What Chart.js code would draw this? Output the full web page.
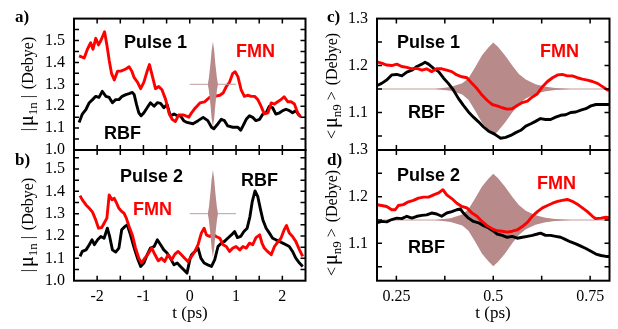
<!DOCTYPE html>
<html>
<head>
<meta charset="utf-8">
<script src="https://cdn.jsdelivr.net/npm/chart.js@4.4.1/dist/chart.umd.min.js"></script>
<style>
  html, body { margin: 0; padding: 0; background: #fff; }
  #fig { position: relative; width: 618px; height: 329px; overflow: hidden; background: #fff; }
  #fig canvas { position: absolute; left: 0; top: 0; }
  .t { position: absolute; white-space: nowrap; line-height: 1; }
  .ann { font: bold 18px "Liberation Sans", Arial, sans-serif; color: #000; }
  .red { color: #f00; }
  .pl { font: bold 17px "Liberation Serif", serif; }
  .ser { font: 17px "Liberation Serif", serif; }
  .ytl { font: 16px "Liberation Serif", serif; }
  .ytl .mu { font-size: 20px; }
  .ytl .bar { margin: 0 2px; }
  .ytl sub { font-size: 13px; vertical-align: -0.3em; line-height: 0; margin-right: 2px; }
  .rot { transform: translate(-50%, -50%) rotate(-90deg); }
  .ctr { transform: translate(-50%, -50%); }
</style>
</head>
<body>
<div id="fig">
  <canvas id="pa" width="618" height="329"></canvas>
  <canvas id="pb" width="618" height="329"></canvas>
  <canvas id="pc" width="618" height="329"></canvas>
  <canvas id="pd" width="618" height="329"></canvas>
</div>
<script>
/* ---------- data: [t (ps), value (Debye)] ---------- */
var aFmn = [[-2.39,1.43],[-2.28,1.42],[-2.21,1.46],[-2.14,1.49],[-2.09,1.46],[-2.03,1.51],[-1.97,1.48],[-1.92,1.50],[-1.84,1.54],[-1.79,1.48],[-1.74,1.41],[-1.69,1.35],[-1.63,1.32],[-1.56,1.36],[-1.49,1.36],[-1.38,1.37],[-1.31,1.38],[-1.25,1.36],[-1.20,1.33],[-1.13,1.31],[-1.06,1.28],[-0.99,1.31],[-0.92,1.36],[-0.87,1.39],[-0.81,1.34],[-0.74,1.28],[-0.67,1.29],[-0.60,1.275],[-0.52,1.23],[-0.45,1.17],[-0.38,1.14],[-0.31,1.13],[-0.24,1.16],[-0.13,1.16],[-0.02,1.15],
  [0.04,1.17],[0.11,1.19],[0.22,1.215],[0.32,1.22],[0.43,1.24],[0.54,1.245],[0.65,1.25],[0.72,1.26],[0.79,1.29],[0.86,1.31],[0.93,1.35],[0.98,1.357],[1.04,1.335],[1.11,1.275],[1.18,1.245],[1.25,1.25],[1.33,1.245],[1.40,1.245],[1.47,1.23],[1.54,1.20],[1.61,1.165],[1.69,1.17],[1.76,1.215],[1.83,1.21],[1.90,1.22],[1.97,1.23],[2.04,1.243],[2.12,1.22],[2.19,1.22],[2.26,1.21],[2.33,1.17],[2.40,1.15]];
var aRbf = [[-2.39,1.126],[-2.32,1.164],[-2.24,1.186],[-2.17,1.216],[-2.10,1.23],[-2.03,1.245],[-1.96,1.24],[-1.89,1.268],[-1.81,1.245],[-1.74,1.24],[-1.67,1.216],[-1.60,1.23],[-1.53,1.23],[-1.46,1.245],[-1.38,1.253],[-1.31,1.257],[-1.24,1.263],[-1.20,1.253],[-1.15,1.208],[-1.10,1.17],[-1.05,1.156],[-0.99,1.17],[-0.92,1.193],[-0.85,1.216],[-0.77,1.20],[-0.70,1.216],[-0.63,1.213],[-0.56,1.193],[-0.49,1.208],[-0.42,1.156],[-0.34,1.164],[-0.27,1.156],[-0.20,1.156],[-0.13,1.134],[-0.06,1.126],
  [0.07,1.12],[0.18,1.134],[0.29,1.149],[0.39,1.134],[0.47,1.104],[0.52,1.097],[0.61,1.12],[0.68,1.14],[0.75,1.134],[0.82,1.11],[0.93,1.104],[1.04,1.104],[1.10,1.09],[1.15,1.11],[1.22,1.14],[1.29,1.156],[1.36,1.149],[1.43,1.134],[1.51,1.14],[1.58,1.164],[1.65,1.17],[1.72,1.20],[1.79,1.193],[1.86,1.164],[1.94,1.17],[2.01,1.18],[2.08,1.186],[2.15,1.18],[2.22,1.17],[2.29,1.18],[2.37,1.156]];
var bFmn = [[-2.37,1.381],[-2.32,1.362],[-2.24,1.339],[-2.17,1.324],[-2.10,1.307],[-2.03,1.272],[-1.97,1.235],[-1.90,1.238],[-1.85,1.257],[-1.79,1.28],[-1.74,1.384],[-1.68,1.362],[-1.63,1.369],[-1.58,1.347],[-1.53,1.324],[-1.47,1.31],[-1.42,1.302],[-1.37,1.28],[-1.31,1.243],[-1.24,1.205],[-1.17,1.146],[-1.10,1.101],[-1.04,1.079],[-0.97,1.101],[-0.90,1.119],[-0.82,1.146],[-0.75,1.116],[-0.68,1.089],[-0.61,1.101],[-0.54,1.086],[-0.47,1.116],[-0.39,1.094],[-0.32,1.119],[-0.25,1.131],[-0.18,1.116],[-0.11,1.101],[-0.04,1.086],
  [0.04,1.109],[0.11,1.131],[0.18,1.161],[0.25,1.213],[0.31,1.235],[0.36,1.205],[0.43,1.198],[0.50,1.208],[0.57,1.198],[0.65,1.19],[0.72,1.161],[0.79,1.153],[0.86,1.131],[0.93,1.146],[1.00,1.153],[1.08,1.138],[1.15,1.153],[1.22,1.146],[1.29,1.168],[1.36,1.161],[1.43,1.193],[1.51,1.205],[1.56,1.168],[1.61,1.146],[1.68,1.131],[1.76,1.116],[1.83,1.153],[1.90,1.173],[1.97,1.19],[2.04,1.228],[2.09,1.247],[2.15,1.213],[2.22,1.198],[2.29,1.176],[2.37,1.138],[2.44,1.109]];
var bRbf = [[-2.37,1.109],[-2.32,1.131],[-2.24,1.138],[-2.17,1.161],[-2.11,1.183],[-2.06,1.161],[-1.99,1.183],[-1.92,1.198],[-1.85,1.19],[-1.78,1.235],[-1.73,1.198],[-1.67,1.138],[-1.60,1.128],[-1.53,1.146],[-1.47,1.228],[-1.40,1.243],[-1.35,1.25],[-1.28,1.205],[-1.20,1.146],[-1.13,1.101],[-1.06,1.064],[-0.99,1.079],[-0.92,1.116],[-0.85,1.146],[-0.77,1.153],[-0.70,1.183],[-0.63,1.161],[-0.56,1.138],[-0.49,1.124],[-0.42,1.101],[-0.34,1.071],[-0.27,1.079],[-0.20,1.064],[-0.13,1.049],[-0.06,1.034],[0.01,1.101],
  [0.04,1.116],[0.11,1.131],[0.18,1.146],[0.24,1.101],[0.31,1.079],[0.39,1.071],[0.47,1.064],[0.54,1.094],[0.61,1.153],[0.68,1.168],[0.75,1.176],[0.82,1.19],[0.90,1.205],[0.97,1.22],[1.03,1.193],[1.10,1.198],[1.17,1.22],[1.24,1.235],[1.30,1.287],[1.35,1.354],[1.41,1.402],[1.47,1.376],[1.53,1.317],[1.58,1.272],[1.65,1.235],[1.72,1.213],[1.79,1.19],[1.86,1.183],[1.94,1.176],[2.01,1.168],[2.08,1.161],[2.15,1.153],[2.22,1.131],[2.29,1.101],[2.37,1.079],[2.44,1.064]];
var cFmn = [[0.199,1.208],[0.212,1.205],[0.225,1.201],[0.238,1.2],[0.251,1.203],[0.264,1.198],[0.277,1.196],[0.290,1.193],[0.303,1.194],[0.316,1.19],[0.328,1.193],[0.341,1.187],[0.354,1.193],[0.367,1.193],[0.380,1.19],[0.393,1.187],[0.406,1.18],[0.419,1.176],[0.432,1.174],[0.445,1.162],[0.458,1.151],[0.471,1.137],[0.484,1.126],[0.497,1.117],
  [0.510,1.114],[0.523,1.11],[0.536,1.107],[0.549,1.108],[0.562,1.115],[0.575,1.121],[0.588,1.124],[0.601,1.133],[0.614,1.14],[0.627,1.155],[0.640,1.166],[0.653,1.174],[0.666,1.18],[0.678,1.181],[0.691,1.178],[0.704,1.178],[0.717,1.174],[0.730,1.171],[0.743,1.169],[0.756,1.166],[0.769,1.162],[0.782,1.155],[0.795,1.148],[0.803,1.148]];
var cRbf = [[0.199,1.157],[0.212,1.162],[0.225,1.169],[0.238,1.18],[0.251,1.181],[0.264,1.178],[0.277,1.186],[0.290,1.19],[0.303,1.198],[0.316,1.203],[0.324,1.207],[0.333,1.203],[0.346,1.194],[0.359,1.187],[0.372,1.173],[0.384,1.162],[0.397,1.148],[0.410,1.13],[0.423,1.115],[0.436,1.101],[0.449,1.09],[0.462,1.08],[0.475,1.069],[0.488,1.06],[0.501,1.055],
  [0.510,1.05],[0.519,1.045],[0.532,1.047],[0.545,1.051],[0.558,1.057],[0.571,1.062],[0.584,1.071],[0.597,1.076],[0.609,1.081],[0.622,1.087],[0.635,1.085],[0.648,1.085],[0.661,1.09],[0.674,1.094],[0.687,1.095],[0.700,1.1],[0.713,1.101],[0.726,1.105],[0.739,1.108],[0.752,1.114],[0.765,1.117],[0.778,1.117],[0.791,1.117],[0.803,1.117]];
var dFmn = [[0.199,1.183],[0.212,1.181],[0.225,1.179],[0.238,1.172],[0.247,1.172],[0.255,1.181],[0.268,1.183],[0.281,1.189],[0.294,1.192],[0.307,1.197],[0.320,1.199],[0.333,1.199],[0.346,1.204],[0.359,1.208],[0.370,1.215],[0.380,1.204],[0.393,1.196],[0.406,1.186],[0.419,1.179],[0.432,1.176],[0.445,1.165],[0.458,1.158],[0.471,1.147],[0.484,1.138],[0.497,1.131],
  [0.510,1.127],[0.523,1.126],[0.536,1.124],[0.549,1.126],[0.562,1.129],[0.575,1.136],[0.588,1.145],[0.601,1.158],[0.614,1.168],[0.627,1.176],[0.640,1.181],[0.653,1.186],[0.666,1.19],[0.678,1.192],[0.691,1.194],[0.704,1.19],[0.717,1.184],[0.730,1.176],[0.743,1.168],[0.756,1.158],[0.764,1.153],[0.778,1.154],[0.791,1.156],[0.803,1.154]];
var dRbf = [[0.199,1.144],[0.212,1.147],[0.225,1.146],[0.238,1.151],[0.251,1.154],[0.264,1.153],[0.277,1.158],[0.290,1.154],[0.303,1.158],[0.316,1.16],[0.328,1.161],[0.341,1.165],[0.354,1.163],[0.367,1.158],[0.380,1.165],[0.393,1.168],[0.406,1.172],[0.415,1.174],[0.423,1.165],[0.436,1.154],[0.449,1.147],[0.462,1.144],[0.475,1.138],[0.488,1.133],[0.501,1.126],
  [0.510,1.12],[0.523,1.117],[0.536,1.113],[0.549,1.115],[0.562,1.111],[0.575,1.113],[0.588,1.115],[0.601,1.117],[0.614,1.12],[0.622,1.122],[0.635,1.117],[0.648,1.117],[0.661,1.115],[0.674,1.113],[0.687,1.108],[0.700,1.103],[0.713,1.099],[0.726,1.094],[0.739,1.089],[0.752,1.083],[0.765,1.077],[0.778,1.074],[0.791,1.072],[0.803,1.072]];

// laser pulse: [t, half height of the envelope]; baseline segments [t, value]
var pulseWide = [[0.39,0],[0.414,0.03],[0.45,0.1],[0.47,0.15],[0.5,0.195],[0.53,0.15],[0.55,0.1],[0.586,0.03],[0.61,0]];
var pulseWideBase = [[0,1.3],[1,1.3]];
var pulseZoom = [[0.35,0],[0.39,0.004],[0.42,0.012],[0.436,0.023],[0.453,0.046],[0.471,0.072],[0.488,0.089],[0.5,0.099],[0.512,0.09],[0.53,0.072],[0.549,0.05],[0.566,0.032],[0.584,0.02],[0.609,0.01],[0.635,0.005],[0.66,0.002],[0.7,0]];
var pulseZoomBase = [[0.2,1.15],[0.8,1.15]];

// ticks and labels
var xTicksL = [-2.5,-2,-1.5,-1,-0.5,0,0.5,1,1.5,2,2.5];
var xLabelsL = ["","-2","","-1","","0","","1","","2",""];
var yTicksA = [1.0,1.05,1.1,1.15,1.2,1.25,1.3,1.35,1.4,1.45,1.5,1.55,1.6];
var yLabelsA = ["1.0","","1.1","","1.2","","1.3","","1.4","","1.5","",""];
var yTicksB = [1.0,1.05,1.1,1.15,1.2,1.25,1.3,1.35,1.4,1.45,1.5,1.55];
var yLabelsB = ["1.0","","1.1","","1.2","","1.3","","1.4","","1.5",""];
var xTicksR = [0.25,0.375,0.5,0.625,0.75];
var xLabelsR = ["0.25","","0.5","","0.75"];
var yTicksR = [1.05,1.1,1.15,1.2,1.25,1.3];
var yLabelsR = ["","1.1","","1.2","","1.3"];

var RED = "#f00", BLACK = "#000", PULSE = "rgb(184,138,138)", PULSE_LINE = "rgb(196,156,156)";

/* ---------- helpers ---------- */
var $ = function (id) { return document.getElementById(id); };
function pts(arr) { return arr.map(function (p) { return { x: p[0], y: p[1] }; }); }
function curve(arr, color, order) {
  return { data: pts(arr), borderColor: color, borderWidth: 2.9, pointRadius: 0, tension: 0, fill: false, order: order, borderJoinStyle: "round" };
}
function pulse(env, base, baseline, order) {
  return [
    { data: env.map(function (p) { return { x: p[0], y: base + p[1] }; }), borderWidth: 0, pointRadius: 0, fill: "+1", backgroundColor: PULSE, order: order },
    { data: env.map(function (p) { return { x: p[0], y: base - p[1] }; }), borderWidth: 0, pointRadius: 0, fill: false, order: order },
    { data: pts(baseline), borderColor: PULSE_LINE, borderWidth: 1, pointRadius: 0, fill: false, order: order },
  ];
}

// inward ticks on all four sides + frame
var frame = {
  id: "frame",
  afterDraw: function (chart) {
    var ctx = chart.ctx, a = chart.chartArea, x = chart.scales.x, y = chart.scales.y;
    ctx.save();
    ctx.strokeStyle = "#000";
    ctx.lineWidth = 1.5;
    ctx.beginPath();
    x.ticks.forEach(function (t) {
      var p = x.getPixelForValue(t.value);
      if (p <= a.left + 1 || p >= a.right - 1) return;
      ctx.moveTo(p, a.bottom); ctx.lineTo(p, a.bottom - 5);
      ctx.moveTo(p, a.top); ctx.lineTo(p, a.top + 5);
    });
    y.ticks.forEach(function (t) {
      var p = y.getPixelForValue(t.value);
      if (p <= a.top + 1 || p >= a.bottom - 1) return;
      ctx.moveTo(a.left, p); ctx.lineTo(a.left + 5, p);
      ctx.moveTo(a.right, p); ctx.lineTo(a.right - 5, p);
    });
    ctx.stroke();
    ctx.lineWidth = 2;
    ctx.strokeRect(a.left, a.top, a.right - a.left, a.bottom - a.top);
    ctx.restore();
  },
};

var YW = 50, XH = 30; // room kept for the tick labels (labels are clipped to the scale box)
function panel(id, box, xr, yr, xt, xl, yt, yl, datasets) {
  var tickFont = { family: "'Liberation Serif', 'Times New Roman', serif", size: 16 };
  return new Chart($(id), {
    type: "line",
    data: { datasets: datasets },
    options: {
      responsive: false, animation: false, events: [],
      layout: { padding: { left: box[0] - YW, top: box[1], right: 618 - box[2], bottom: 329 - box[3] - XH } },
      plugins: { legend: { display: false }, tooltip: { enabled: false } },
      scales: {
        x: {
          type: "linear", min: xr[0], max: xr[1],
          grid: { display: false, drawTicks: false }, border: { display: false },
          afterBuildTicks: function (s) { s.ticks = xt.map(function (v) { return { value: v }; }); },
          afterFit: function (s) { s.height = XH; },
          ticks: { autoSkip: false, maxRotation: 0, padding: 6, color: "#000", font: tickFont,
            callback: function (v, i) { return xl[i]; } },
        },
        y: {
          type: "linear", min: yr[0], max: yr[1],
          grid: { display: false, drawTicks: false }, border: { display: false },
          afterBuildTicks: function (s) { s.ticks = yt.map(function (v) { return { value: v }; }); },
          afterFit: function (s) { s.width = YW; },
          ticks: { autoSkip: false, padding: 9, color: "#000", font: tickFont,
            callback: function (v, i) { return yl[i]; } },
        },
      },
    },
    plugins: [frame],
  });
}

/* ---------- panels ---------- */
var noX = xTicksL.map(function () { return ""; });
var noXR = xTicksR.map(function () { return ""; });
panel("pa", [74, 16.5, 305.5, 150], [-2.5, 2.5], [1.0, 1.6], xTicksL, noX, yTicksA, yLabelsA,
  pulse(pulseWide, 1.3, pulseWideBase, 0).concat([curve(aFmn, RED, 1), curve(aRbf, BLACK, 2)]));
panel("pb", [74, 150, 305.5, 280.7], [-2.5, 2.5], [1.0, 1.585], xTicksL, xLabelsL, yTicksB, yLabelsB,
  pulse(pulseWide, 1.3, pulseWideBase, 0).concat([curve(bFmn, RED, 1), curve(bRbf, BLACK, 2)]));
panel("pc", [377, 16.5, 609.5, 150], [0.2, 0.8], [1.02, 1.3], xTicksR, noXR, yTicksR, yLabelsR,
  [curve(cFmn, RED, 0), curve(cRbf, BLACK, 1)].concat(pulse(pulseZoom, 1.15, pulseZoomBase, 2)));
panel("pd", [377, 150, 609.5, 280.7], [0.2, 0.8], [1.02, 1.3], xTicksR, xLabelsR, yTicksR, yLabelsR,
  [curve(dFmn, RED, 0), curve(dRbf, BLACK, 1)].concat(pulse(pulseZoom, 1.15, pulseZoomBase, 2)));

/* ---------- text ---------- */
var fig = $("fig");
function txt(html, cls, left, top) {
  var d = document.createElement("div");
  d.className = "t " + cls;
  d.innerHTML = html;
  d.style.left = left + "px";
  d.style.top = top + "px";
  fig.appendChild(d);
}
// annotations: left edge, baseline - 15
txt("Pulse 1", "ann", 124, 32);
txt("FMN", "ann red", 236, 41);
txt("RBF", "ann", 104, 123);
txt("Pulse 2", "ann", 120, 166);
txt("FMN", "ann red", 133, 199);
txt("RBF", "ann", 241, 170);
txt("Pulse 1", "ann", 397, 32);
txt("FMN", "ann red", 540, 41);
txt("RBF", "ann", 408, 102);
txt("Pulse 2", "ann", 397, 165);
txt("FMN", "ann red", 537, 173);
txt("RBF", "ann", 408, 237);
// panel letters
txt("a)", "pl", 15, 7);
txt("b)", "pl", 15, 150);
txt("c)", "pl", 327, 7);
txt("d)", "pl", 327, 150);
// axis titles
var muIn = '<span class="bar">|</span><span class="mu">&mu;</span><sub>1n</sub><span class="bar">|</span> (Debye)';
var muN9 = '<span class="bar">&lt;</span><span class="mu">&mu;</span><sub>n9</sub><span class="bar">&gt;</span> (Debye)';
txt(muIn, "ytl rot", 26, 85);
txt(muIn, "ytl rot", 26, 226);
txt(muN9, "ytl rot", 330, 87);
txt(muN9, "ytl rot", 330, 224);
txt("t (ps)", "ser ctr", 190, 313);
txt("t (ps)", "ser ctr", 493, 313);
</script>
</body>
</html>
